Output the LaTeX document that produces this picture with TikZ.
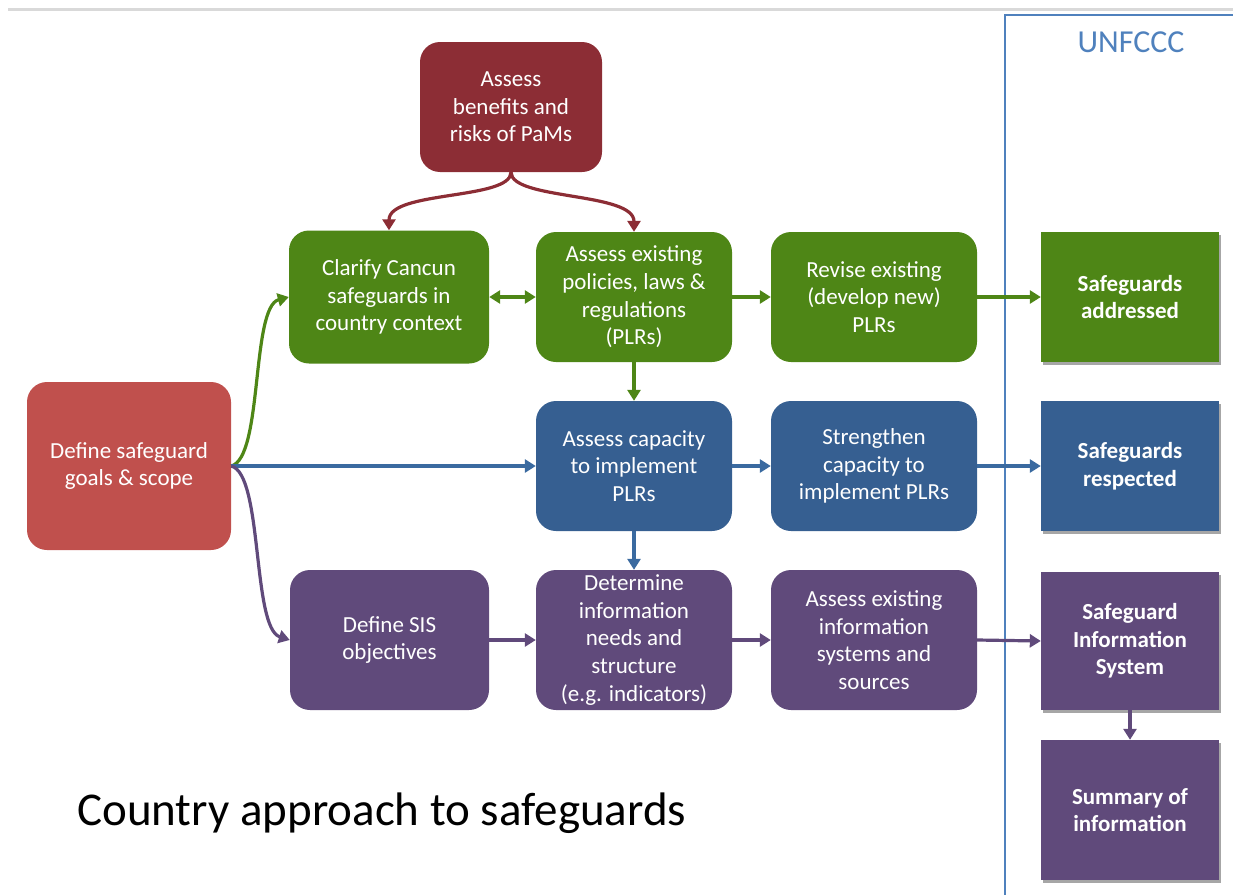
\documentclass[tikz,border=0pt]{standalone}
\usepackage{fontspec}
\setmainfont{Carlito}
\usetikzlibrary{arrows.meta,shadows}

\definecolor{pamred}{HTML}{8C2D35}
\definecolor{goalred}{HTML}{C0504D}
\definecolor{plrgreen}{HTML}{4E8616}
\definecolor{capblue}{HTML}{365F91}
\definecolor{capline}{HTML}{3A6AA0}
\definecolor{sispurple}{HTML}{604A7B}
\definecolor{unframe}{HTML}{4F81BD}

\tikzset{
  stagebox/.style={rounded corners=20pt, inner sep=0pt, align=center,
    text=white, font=\fontsize{23}{27.7}\selectfont},
  outcomebox/.style={inner sep=0pt, align=center, text=white,
    font=\bfseries\fontsize{23}{27.7}\selectfont,
    drop shadow={shadow xshift=2pt, shadow yshift=-3pt, opacity=0.35, fill=black}},
  flow/.style={line width=3.2pt, -{Triangle[length=11pt,width=13pt]}},
  twoway/.style={line width=3.2pt, {Triangle[length=11pt,width=13pt]}-{Triangle[length=11pt,width=13pt]}},
}

\begin{document}
\begin{tikzpicture}[x=1pt,y=-1pt]
\useasboundingbox (0,0) rectangle (1233,894);

% header rule and the UNFCCC column
\draw[gray!30, line width=3pt] (8,9) -- (1240,9);
\draw[unframe, line width=2pt] (1240,15) -- (1005,15) -- (1005,900);
\node[text=unframe, font=\fontsize{32}{36}\selectfont] (unfccc) at (1131,42) {UNFCCC};

% stage boxes
\node[stagebox, fill=pamred, minimum width=182pt, minimum height=130pt]
  (pams) at (511,107) {Assess\\benefits and\\risks of PaMs};
\node[stagebox, fill=goalred, minimum width=204pt, minimum height=168pt]
  (goals) at (129,466) {Define safeguard\\goals \& scope};

\node[stagebox, fill=plrgreen, minimum width=200pt, minimum height=133pt]
  (clarify) at (389,297) {Clarify Cancun\\safeguards in\\country context};
\node[stagebox, fill=plrgreen, minimum width=196pt, minimum height=130pt]
  (assessplr) at (634,297) {Assess existing\\policies, laws \&\\regulations\\(PLRs)};
\node[stagebox, fill=plrgreen, minimum width=206pt, minimum height=130pt]
  (revise) at (874,297) {Revise existing\\(develop new)\\PLRs};

\node[stagebox, fill=capblue, minimum width=196pt, minimum height=130pt]
  (assesscap) at (634,466) {Assess capacity\\to implement\\PLRs};
\node[stagebox, fill=capblue, minimum width=206pt, minimum height=130pt]
  (strengthen) at (874,466) {Strengthen\\capacity to\\implement PLRs};

\node[stagebox, fill=sispurple, minimum width=199pt, minimum height=140pt]
  (sisobj) at (389.5,640) {Define SIS\\objectives};
\node[stagebox, fill=sispurple, minimum width=196pt, minimum height=140pt]
  (infoneeds) at (634,640) {Determine\\information\\needs and\\structure\\(e.g. indicators)};
\node[stagebox, fill=sispurple, minimum width=206pt, minimum height=140pt]
  (infosys) at (874,640) {Assess existing\\information\\systems and\\sources};

% outcome boxes
\node[outcomebox, fill=plrgreen, minimum width=178pt, minimum height=130pt]
  (addressed) at (1130,297) {Safeguards\\addressed};
\node[outcomebox, fill=capblue, minimum width=178pt, minimum height=130pt]
  (respected) at (1130,466) {Safeguards\\respected};
\node[outcomebox, fill=sispurple, minimum width=178pt, minimum height=138pt]
  (sis) at (1130,641) {Safeguard\\Information\\System};
\node[outcomebox, fill=sispurple, minimum width=178pt, minimum height=140pt]
  (summary) at (1130,810) {Summary of\\information};

% title
\node[anchor=base west, inner sep=0pt, font=\fontsize{47}{56}\selectfont] (title) at (77,825)
  {Country approach to safeguards};

% connectors from the PaMs assessment
\draw[flow, pamred] (pams.south) .. controls ++(0,28) and ++(0,-40) .. (clarify.north);
\draw[flow, pamred] (pams.south) .. controls ++(0,28) and ++(0,-40) .. (assessplr.north);

% connectors from the goals box
\draw[flow, plrgreen] (goals.east) .. controls ++(32,-8) and ++(-38,10) .. (clarify.west);
\draw[flow, capline] (goals.east) -- (assesscap.west);
\draw[flow, sispurple] (goals.east) .. controls ++(32,8) and ++(-38,-12) .. (sisobj.west);

% green row
\draw[twoway, plrgreen] (clarify.east) -- (assessplr.west);
\draw[flow, plrgreen] (assessplr.east) -- (revise.west);
\draw[flow, plrgreen] (revise.east) -- (addressed.west);
\draw[flow, plrgreen] (assessplr.south) -- (assesscap.north);

% blue row
\draw[flow, capline] (assesscap.east) -- (strengthen.west);
\draw[flow, capline] (strengthen.east) -- (respected.west);
\draw[flow, capline] (assesscap.south) -- (infoneeds.north);

% purple row
\draw[flow, sispurple] (sisobj.east) -- (infoneeds.west);
\draw[flow, sispurple] (infoneeds.east) -- (infosys.west);
\draw[flow, sispurple] (infosys.east) -- (sis.west);
\draw[flow, sispurple] (sis.south) -- (summary.north);
\end{tikzpicture}
\end{document}
